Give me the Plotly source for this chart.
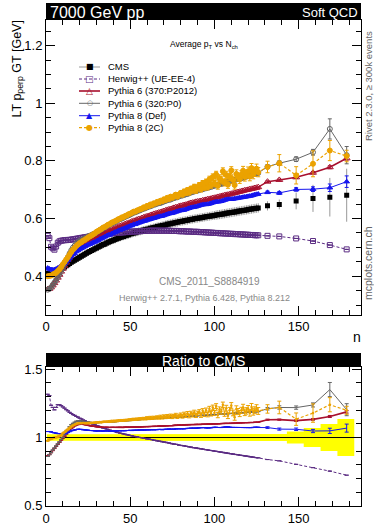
import plotly.graph_objects as go

# multiplicity bins: unit bins up to 126, then wider bins
n_dense = list(range(1, 127))
n_sparse = [131.5, 138.5, 148.5, 158.5, 168.5, 178.5]
sparse_lo = [126.5, 134.5, 143.0, 153.0, 163.0, 173.0]
sparse_hi = [134.5, 143.0, 153.0, 163.0, 173.0, 183.0]

cms_dense = [
    .410, .407, .406, .407, .409, .412, .416, .420, .424, .428,
    .432, .436, .440, .444, .448, .452, .455, .459, .462, .466,
    .469, .473, .476, .480, .483, .486, .489, .492, .495, .498,
    .501, .504, .507, .510, .512, .515, .518, .520, .523, .525,
    .527, .530, .532, .534, .536, .538, .540, .542, .544, .546,
    .548, .550, .551, .553, .555, .556, .558, .560, .561, .563,
    .564, .566, .567, .569, .570, .572, .573, .574, .576, .577,
    .578, .580, .581, .582, .584, .585, .586, .587, .589, .590,
    .591, .592, .593, .594, .596, .597, .598, .599, .600, .601,
    .602, .603, .604, .605, .606, .607, .608, .609, .610, .611,
    .612, .613, .614, .615, .616, .617, .618, .619, .620, .621,
    .622, .623, .624, .625, .626, .627, .628, .629, .630, .631,
    .632, .633, .634, .635, .636, .637]
cms_sparse = [.644, .649, .661, .670, .674, .681]
cms_err_dense = [
    .010, .010, .010, .010, .010, .010, .010, .011, .011, .011,
    .011, .011, .011, .011, .011, .011, .011, .011, .012, .012,
    .012, .012, .012, .012, .012, .012, .012, .012, .012, .012,
    .013, .013, .013, .013, .013, .013, .013, .013, .013, .013,
    .013, .013, .013, .013, .013, .013, .014, .014, .014, .014,
    .014, .014, .014, .014, .014, .014, .014, .014, .014, .014,
    .014, .014, .014, .014, .014, .014, .014, .014, .014, .014,
    .015, .015, .015, .015, .015, .015, .015, .015, .015, .015,
    .015, .015, .015, .015, .015, .015, .015, .015, .015, .015,
    .015, .015, .015, .015, .015, .015, .015, .015, .015, .015,
    .016, .016, .016, .016, .016, .016, .016, .016, .016, .016,
    .016, .016, .016, .016, .016, .016, .016, .016, .016, .016,
    .016, .016, .016, .016, .016, .016]
cms_err_sparse = [.016, .017, .029, .047, .067, .092]

herwig_dense = [
    .540, .532, .502, .497, .492, .503, .516, .521, .523, .524,
    .525, .525, .526, .526, .527, .528, .529, .530, .531, .532,
    .533, .534, .535, .536, .537, .538, .539, .540, .541, .542,
    .543, .544, .544, .545, .546, .547, .547, .548, .549, .549,
    .550, .550, .551, .551, .552, .552, .553, .553, .554, .554,
    .555, .555, .555, .556, .556, .556, .557, .557, .557, .557,
    .558, .558, .558, .558, .558, .558, .558, .558, .558, .558,
    .558, .558, .558, .557, .557, .557, .557, .557, .556, .556,
    .556, .556, .555, .555, .555, .555, .554, .554, .554, .554,
    .553, .553, .553, .552, .552, .552, .551, .551, .551, .550,
    .550, .550, .549, .549, .549, .548, .548, .548, .547, .547,
    .547, .546, .546, .546, .545, .545, .545, .544, .544, .544,
    .543, .543, .543, .542, .542, .542]
herwig_sparse = [.540, .538, .531, .522, .508, .493]

p6_p2012_dense = [
    .355, .356, .361, .368, .376, .385, .395, .405, .416, .426,
    .436, .447, .458, .468, .478, .487, .494, .501, .506, .512,
    .515, .519, .521, .524, .526, .528, .530, .532, .535, .537,
    .540, .543, .546, .548, .550, .554, .556, .558, .562, .564,
    .566, .569, .572, .574, .576, .578, .581, .583, .585, .587,
    .590, .592, .593, .596, .598, .599, .602, .604, .606, .608,
    .609, .612, .613, .616, .617, .619, .621, .622, .624, .626,
    .628, .630, .632, .633, .635, .637, .639, .640, .643, .644,
    .645, .647, .648, .650, .652, .654, .655, .656, .658, .659,
    .660, .661, .663, .664, .665, .667, .668, .669, .671, .672,
    .673, .675, .676, .678, .679, .681, .682, .683, .684, .686,
    .687, .689, .690, .692, .693, .695, .696, .698, .699, .700,
    .702, .703, .704, .706, .707, .709]
p6_p2012_sparse = [.728, .734, .743, .759, .778, .809]
p6_p2012_err_sparse = [.003, .003, .004, .004, .005, .006]

p6_p0_dense = [
    .353, .356, .361, .370, .378, .387, .397, .407, .418, .428,
    .441, .453, .466, .479, .490, .499, .506, .514, .518, .523,
    .526, .529, .532, .535, .538, .540, .543, .546, .548, .552,
    .556, .559, .563, .567, .569, .573, .577, .579, .583, .585,
    .588, .592, .595, .598, .600, .603, .606, .609, .611, .614,
    .617, .620, .622, .624, .627, .629, .632, .634, .636, .639,
    .641, .643, .645, .648, .649, .652, .653, .654, .657, .659,
    .661, .664, .665, .666, .669, .671, .673, .674, .677, .679,
    .680, .682, .684, .685, .688, .690, .692, .694, .695, .697,
    .699, .701, .702, .704, .705, .707, .709, .710, .712, .714,
    .715, .717, .719, .720, .722, .724, .726, .727, .729, .730,
    .732, .734, .736, .738, .739, .740, .742, .744, .746, .748,
    .750, .751, .753, .755, .756, .758]
p6_p0_sparse = [.780, .792, .806, .830, .911, .820]
p6_p0_err_sparse = [.006, .008, .008, .010, .035, .030]

p8_def_dense = [
    .428, .425, .423, .422, .423, .425, .428, .432, .435, .440,
    .444, .450, .456, .463, .470, .476, .480, .486, .490, .494,
    .497, .500, .503, .506, .509, .511, .514, .517, .519, .522,
    .525, .529, .531, .534, .537, .540, .543, .544, .548, .550,
    .553, .555, .559, .560, .563, .565, .567, .570, .572, .575,
    .576, .580, .580, .583, .585, .587, .589, .591, .592, .595,
    .596, .598, .600, .601, .603, .605, .607, .608, .609, .611,
    .613, .615, .617, .618, .619, .621, .623, .625, .627, .628,
    .629, .630, .632, .634, .636, .638, .639, .640, .641, .643,
    .645, .647, .648, .649, .649, .650, .651, .653, .655, .657,
    .658, .658, .659, .660, .662, .664, .666, .667, .667, .667,
    .668, .669, .670, .671, .672, .673, .674, .675, .676, .677,
    .678, .679, .681, .683, .684, .685]
p8_def_sparse = [.691, .689, .701, .702, .707, .728]
p8_def_err_sparse = [.004, .005, .006, .008, .013, .020]

p8_2c_dense = [
    .400, .401, .402, .405, .409, .412, .418, .424, .432, .441,
    .449, .458, .466, .475, .484, .492, .498, .505, .510, .515,
    .518, .523, .526, .530, .534, .538, .541, .545, .549, .554,
    .557, .561, .564, .569, .571, .575, .579, .581, .586, .588,
    .591, .594, .598, .600, .604, .605, .609, .611, .615, .617,
    .620, .624, .624, .628, .630, .633, .634, .639, .638, .644,
    .643, .649, .647, .653, .652, .658, .656, .662, .660, .667,
    .664, .672, .668, .676, .672, .677, .683, .676, .683, .689,
    .683, .694, .688, .699, .690, .704, .697, .710, .697, .708,
    .716, .702, .722, .708, .727, .709, .736, .716, .744, .721,
    .753, .714, .740, .732, .764, .725, .751, .718, .744, .767,
    .734, .716, .755, .744, .736, .752, .766, .745, .753, .764,
    .746, .775, .754, .762, .773, .761]
p8_2c_sparse = [.779, .792, .750, .790, .836, .817]
p8_2c_err_dense = [
    .001, .001, .001, .001, .001, .001, .001, .001, .001, .001,
    .001, .001, .001, .001, .001, .001, .001, .001, .001, .001,
    .001, .001, .001, .002, .002, .002, .002, .002, .002, .002,
    .002, .002, .002, .002, .002, .002, .002, .003, .003, .003,
    .003, .003, .003, .003, .003, .003, .003, .003, .003, .004,
    .004, .004, .004, .004, .004, .004, .004, .004, .005, .005,
    .005, .005, .005, .005, .005, .005, .006, .006, .006, .006,
    .006, .006, .006, .006, .007, .007, .007, .007, .007, .007,
    .008, .008, .008, .008, .008, .008, .009, .009, .009, .009,
    .009, .010, .010, .010, .010, .010, .011, .011, .011, .011,
    .011, .012, .012, .012, .012, .012, .013, .013, .013, .013,
    .013, .014, .014, .014, .014, .014, .015, .015, .015, .015,
    .015, .016, .016, .016, .016, .016]
p8_2c_err_sparse = [.020, .030, .030, .045, .035, .020]

PURPLE = "#5b2c83"
RED = "#a8102e"
GREY = "#666666"
BLUE = "#1515ee"
ORANGE = "#eba200"
FONT = "Liberation Sans"
SHORT_DASH = "3px,2px"

n_all = n_dense + n_sparse
cms = cms_dense + cms_sparse
cms_err = cms_err_dense + cms_err_sparse
zeros = [0.0] * len(n_dense)

models = [
    # name, values, errors, colour, dash, symbol, size, width
    ("Herwig++ (UE-EE-4)", herwig_dense + herwig_sparse, zeros + [0.0] * 6,
     PURPLE, SHORT_DASH, "square-open", 5, 1),
    ("Pythia 6 (370:P2012)", p6_p2012_dense + p6_p2012_sparse, zeros + p6_p2012_err_sparse,
     RED, "solid", "triangle-up-open", 6, 1.6),
    ("Pythia 6 (320:P0)", p6_p0_dense + p6_p0_sparse, zeros + p6_p0_err_sparse,
     GREY, "solid", "circle-open", 5, 1),
    ("Pythia 8 (Def)", p8_def_dense + p8_def_sparse, zeros + p8_def_err_sparse,
     BLUE, "solid", "triangle-up", 5, 1),
    ("Pythia 8 (2C)", p8_2c_dense + p8_2c_sparse, p8_2c_err_dense + p8_2c_err_sparse,
     ORANGE, SHORT_DASH, "circle", 5, 1.2),
]

fig = go.Figure()

# ---- main panel
fig.add_trace(go.Scatter(
    x=n_all, y=cms, mode="markers", xaxis="x", yaxis="y",
    marker=dict(symbol="square", size=5, color="black"),
    error_y=dict(type="data", array=cms_err, color="#999999", thickness=1, width=0)))
for name, vals, errs, col, dash, sym, size, lw in models:
    fig.add_trace(go.Scatter(
        x=n_all, y=vals, mode="lines+markers", xaxis="x", yaxis="y", name=name,
        line=dict(color=col, dash=dash, width=lw),
        marker=dict(symbol=sym, size=size, color=col, line=dict(color=col, width=1)),
        error_y=dict(type="data", array=errs, color=col, thickness=1, width=2)))

# ---- ratio panel
lo = [n - 0.5 for n in n_dense] + sparse_lo
hi = [n + 0.5 for n in n_dense] + sparse_hi
rel = [e / c for e, c in zip(cms_err, cms)]
band_x, band_y = [], []
for a, b, r in zip(lo, hi, rel):
    band_x += [a, b]
    band_y += [1 + r, 1 + r]
for a, b, r in zip(reversed(lo), reversed(hi), reversed(rel)):
    band_x += [b, a]
    band_y += [1 - r, 1 - r]
fig.add_trace(go.Scatter(x=band_x, y=band_y, fill="toself", mode="lines",
                         line=dict(width=0), fillcolor="#ffff00",
                         xaxis="x2", yaxis="y2"))
fig.add_trace(go.Scatter(x=[lo[0], hi[-1]], y=[cms[0] / cms[0], cms[-1] / cms[-1]],
                         mode="lines", line=dict(color="black", width=1),
                         xaxis="x2", yaxis="y2"))
for name, vals, errs, col, dash, sym, size, lw in models:
    ratio = [v / c for v, c in zip(vals, cms)]
    rerr = [e / c for e, c in zip(errs, cms)]
    is_2c = name == "Pythia 8 (2C)"
    fig.add_trace(go.Scatter(
        x=n_all, y=ratio, mode="lines+markers" if is_2c else "lines",
        xaxis="x2", yaxis="y2",
        line=dict(color=col, dash=dash, width=lw),
        marker=dict(symbol="circle", size=2.5, color=col),
        error_y=dict(type="data", array=rerr, color=col, thickness=1, width=2)))


def P(x, y):
    # pixel position -> paper coordinates
    return (x - 46) / 315, (506 - y) / 486


axis_common = dict(showline=True, linecolor="black", linewidth=1, mirror="ticks",
                   ticks="inside", ticklen=9, tickcolor="black", showgrid=False,
                   zeroline=False, automargin=False,
                   tickfont=dict(family=FONT, size=13, color="black"))

fig.update_layout(
    width=374, height=525, showlegend=False,
    margin=dict(l=46, r=13, t=20, b=19, autoexpand=False),
    paper_bgcolor="white", plot_bgcolor="white",
    font=dict(family=FONT, color="black"),
    xaxis=dict(domain=[0, 1], range=[0, 187], anchor="y", dtick=50, tick0=0,
               minor=dict(dtick=10, ticklen=5, ticks="inside", tickcolor="black"),
               **axis_common),
    yaxis=dict(domain=[0.394, 1], range=[0.267, 1.289], anchor="x", dtick=0.2, tick0=0,
               minor=dict(dtick=0.05, ticklen=5, ticks="inside", tickcolor="black"),
               **axis_common),
    xaxis2=dict(domain=[0, 1], range=[0, 187], anchor="y2", dtick=50, tick0=0,
                minor=dict(dtick=10, ticklen=5, ticks="inside", tickcolor="black"),
                **axis_common),
    yaxis2=dict(domain=[0, 0.286], range=[0.498, 1.517], anchor="x2", dtick=0.5, tick0=0,
                minor=dict(dtick=0.1, ticklen=5, ticks="inside", tickcolor="black"),
                **axis_common),
)

shapes = []
anns = []


def rect(x0, y0, x1, y1):
    a = P(x0, y0)
    b = P(x1, y1)
    shapes.append(dict(type="rect", xref="paper", yref="paper", x0=a[0], y0=a[1],
                       x1=b[0], y1=b[1], fillcolor="black", line=dict(width=0),
                       layer="above"))


def text(x, y, s, size, color="black", xa="center", ya="middle", angle=0, family=FONT):
    px, py = P(x, y)
    anns.append(dict(xref="paper", yref="paper", x=px, y=py, text=s, showarrow=False,
                     xanchor=xa, yanchor=ya, textangle=angle,
                     font=dict(family=family, size=size, color=color)))


# header bars
rect(46, 3, 361, 20)
rect(46, 353, 361, 367)
text(48, 12, "7000 GeV pp", 16, "white", xa="left")
text(360, 12.5, "Soft QCD", 13, "white", xa="right")
text(203.5, 360.5, "Ratio to CMS", 14, "white")

# labels
text(17, 19, "LT p<sub>perp</sub> GT [GeV]", 12.5, angle=-90, ya="top")
text(357, 337, "n", 14)
text(368, 86, "Rivet 2.3.0, \u2265 300k events", 9.5, "#666666", angle=-90)
text(368, 263, "mcplots.cern.ch", 10.5, "#666666", angle=-90)
text(204, 44, "Average p<sub>T</sub> vs N<sub>ch</sub>", 8.5)
text(209, 281, "CMS_2011_S8884919", 10, "#888888")
text(204, 298, "Herwig++ 2.7.1, Pythia 6.428, Pythia 8.212", 9, "#888888")

# hand-made legend
legend_rows = [
    ("CMS", "#999999", "solid", 1, "\u25a0", "black", 8),
    ("Herwig++ (UE-EE-4)", PURPLE, SHORT_DASH, 1, "\u25a1", PURPLE, 9),
    ("Pythia 6 (370:P2012)", RED, "solid", 1.6, "\u25b3", RED, 9),
    ("Pythia 6 (320:P0)", GREY, "solid", 1, "\u25cb", GREY, 7),
    ("Pythia 8 (Def)", BLUE, "solid", 1, "\u25b2", BLUE, 8),
    ("Pythia 8 (2C)", ORANGE, SHORT_DASH, 1.2, "\u25cf", ORANGE, 8),
]
row_y = [67, 79, 91, 103.3, 115.7, 127.7]
for (label, lc, dash, lw, glyph, gc, gs), y in zip(legend_rows, row_y):
    a = P(79, y)
    b = P(100, y)
    shapes.append(dict(type="line", xref="paper", yref="paper", x0=a[0], y0=a[1],
                       x1=b[0], y1=b[1], line=dict(color=lc, width=lw, dash=dash)))
    text(89.5, y, glyph, gs, gc, family="DejaVu Sans")
    text(106, y, label, 9.5, xa="left")

fig.update_layout(shapes=shapes, annotations=anns)
# the page's default 8px body margin would shift the figure, so drop it;
# also keep the hover toolbar from covering the header
fig.write_html("out.html", config={"displayModeBar": False},
               post_script="document.body.style.margin = '0';")
